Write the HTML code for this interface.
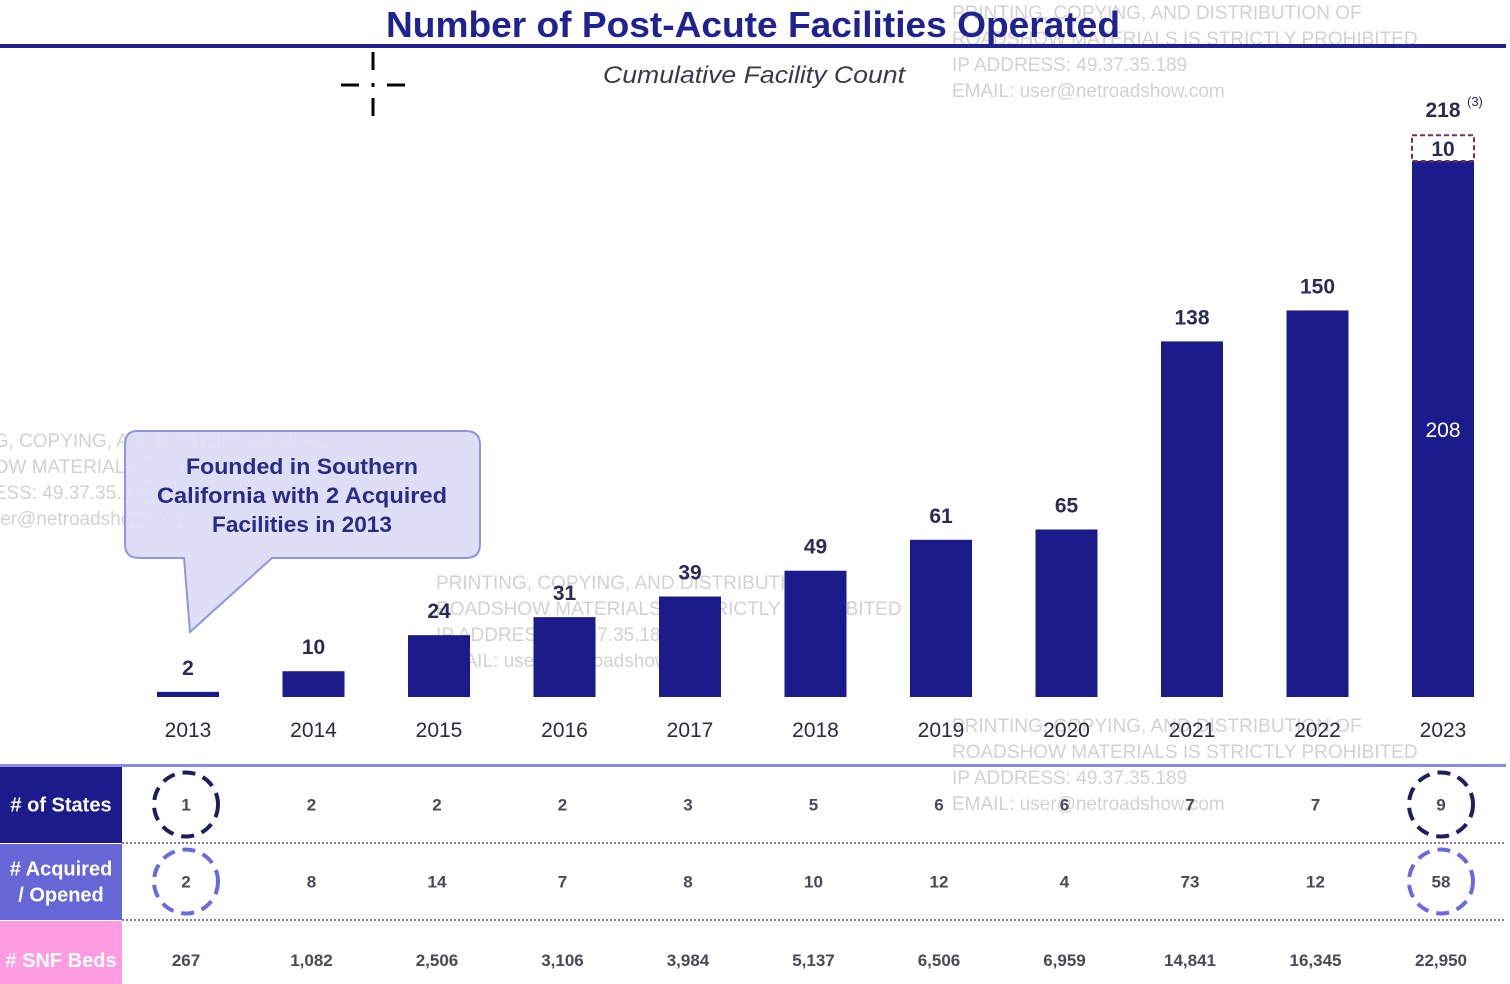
<!DOCTYPE html>
<html><head><meta charset="utf-8"><style>
html,body{margin:0;padding:0;background:#fff;width:1510px;height:984px;overflow:hidden;font-family:"Liberation Sans",sans-serif}
svg{display:block}
</style></head><body>
<svg id="chart" width="1510" height="984" viewBox="0 0 1510 984">
<g fill="#d2d2d2" font-size="19" font-family="Liberation Sans,sans-serif">
<text x="952" y="19">PRINTING, COPYING, AND DISTRIBUTION OF</text>
<text x="952" y="45">ROADSHOW MATERIALS IS STRICTLY PROHIBITED</text>
<text x="952" y="71">IP ADDRESS: 49.37.35.189</text>
<text x="952" y="97">EMAIL: user@netroadshow.com</text>
<text x="-20" y="447">NG, COPYING, AND DISTRIBUTION OF</text>
<text x="-20" y="473">HOW MATERIALS IS STRICTLY PROHIBITED</text>
<text x="-20" y="499">RESS: 49.37.35.189</text>
<text x="-20" y="525">user@netroadshow.com</text>
<text x="436" y="589">PRINTING, COPYING, AND DISTRIBUTION OF</text>
<text x="436" y="615">ROADSHOW MATERIALS IS STRICTLY PROHIBITED</text>
<text x="436" y="641">IP ADDRESS: 49.37.35.189</text>
<text x="436" y="667">EMAIL: user@netroadshow.com</text>
<text x="952" y="732">PRINTING, COPYING, AND DISTRIBUTION OF</text>
<text x="952" y="758">ROADSHOW MATERIALS IS STRICTLY PROHIBITED</text>
<text x="952" y="784">IP ADDRESS: 49.37.35.189</text>
<text x="952" y="810">EMAIL: user@netroadshow.com</text>
</g>
<text x="753" y="37" text-anchor="middle" font-size="36" font-weight="bold" fill="#1f2290" textLength="734" lengthAdjust="spacingAndGlyphs">Number of Post-Acute Facilities Operated</text>
<rect x="0" y="44" width="1506" height="4" fill="#1f2290"/>
<text x="754" y="83" text-anchor="middle" font-size="24" font-style="italic" fill="#3a3a4a" textLength="302" lengthAdjust="spacingAndGlyphs">Cumulative Facility Count</text>
<g stroke="#000" stroke-width="3">
<line x1="373" y1="52" x2="373" y2="70"/><line x1="373" y1="98" x2="373" y2="116"/>
<line x1="341" y1="85" x2="359" y2="85"/><line x1="387" y1="85" x2="405" y2="85"/>
<line x1="373" y1="83" x2="373" y2="87"/>
</g>
<g>
<path d="M137,431 H466 Q480,431 480,445 V544 Q480,558 466,558 H272 L190,632 L184,558 H139 Q125,558 125,544 V445 Q125,431 137,431 Z" fill="#dcdcf6" stroke="#8c8cdc" stroke-width="2" opacity="0.92"/>
<g font-size="22" font-weight="bold" fill="#2a2a88" text-anchor="middle">
<text x="302" y="474" textLength="232" lengthAdjust="spacingAndGlyphs">Founded in Southern</text>
<text x="302" y="503" textLength="290" lengthAdjust="spacingAndGlyphs">California with 2 Acquired</text>
<text x="302" y="532" textLength="180" lengthAdjust="spacingAndGlyphs">Facilities in 2013</text>
</g>
</g>
<g id="bars"></g>
<g id="table"></g>
</svg>
<script>
const years = ['2013','2014','2015','2016','2017','2018','2019','2020','2021','2022','2023'];
const facilities = [2,10,24,31,39,49,61,65,138,150,208];
const pending2023 = 10;
const totalLabel2023 = '218';
const states = [1,2,2,2,3,5,6,6,7,7,9];
const acquired = [2,8,14,7,8,10,12,4,73,12,58];
const snfBeds = ['267','1,082','2,506','3,106','3,984','5,137','6,506','6,959','14,841','16,345','22,950'];

const NS='http://www.w3.org/2000/svg';
function mk(tag,attrs,parent,text){const e=document.createElementNS(NS,tag);for(const k in attrs)e.setAttribute(k,attrs[k]);if(text!==undefined)e.textContent=text;parent.appendChild(e);return e;}
const base=697, scale=536/208;
const xC=i=>188+i*125.5;
const yV=v=>base-v*scale;
const barW=62;
const bars=document.getElementById('bars');
years.forEach((yr,i)=>{
  const v=facilities[i];
  const r=mk('rect',{x:xC(i)-barW/2,y:yV(v),width:barW,height:base-yV(v),fill:'#1b1b8c'},bars);
  
  
  const last=i===years.length-1;
  if(!last){
    const t=mk('text',{x:xC(i),y:yV(v)-17,'text-anchor':'middle','font-size':21,'font-weight':'bold',fill:'#2b2b55'},bars,String(v));
    
    
  } else {
    const t=mk('text',{x:xC(i),y:(yV(v)+base)/2+8,'text-anchor':'middle','font-size':21,fill:'#ffffff'},bars,String(v));
    
    
    const top=yV(v+pending2023);
    const d=mk('rect',{x:xC(i)-barW/2,y:top,width:barW,height:yV(v)-top,fill:'#fff',stroke:'#7a3050','stroke-width':2,'stroke-dasharray':'5 3'},bars);
    
    
    const p=mk('text',{x:xC(i),y:(top+yV(v))/2+8,'text-anchor':'middle','font-size':21,'font-weight':'bold',fill:'#2b2b55'},bars,String(pending2023));
    
    
    const tl=mk('text',{x:xC(i),y:top-18,'text-anchor':'middle','font-size':21,'font-weight':'bold',fill:'#2b2b55'},bars,totalLabel2023);
    
    
    const fn=mk('text',{x:xC(i)+24,y:top-29,'font-size':13,fill:'#2b2b55'},bars,'(3)');
    
    
  }
  const yl=mk('text',{x:xC(i),y:737,'text-anchor':'middle','font-size':21,fill:'#2b2b3a'},bars,yr);
  
  
});
const tb=document.getElementById('table');
const rows=[{label:['# of States'],y:766,h:77,bg:'#1b1b8c',vals:states,circ:'#1e1e5e',dy:0},
  {label:['# Acquired','/ Opened'],y:843,h:77,bg:'#6666d6',vals:acquired,circ:'#6a6ae0',dy:0},
  {label:['# SNF Beds'],y:920,h:64,bg:'#ff9be0',vals:snfBeds,circ:null,dy:8}];
const hl=mk('rect',{x:0,y:764,width:1506,height:3,fill:'#8a8ae0'},tb);


rows.forEach((r,ri)=>{
  const h=mk('rect',{x:0,y:r.y+1,width:122,height:r.h-1,fill:r.bg},tb);
  
  
  r.label.forEach((l,li)=>{
    const t=mk('text',{x:61,y:r.y+r.h/2+7+r.dy+(r.label.length>1?(li-0.5)*26:0),'text-anchor':'middle','font-size':20,'font-weight':'bold',fill:'#fff'},tb,l);
    
    
  });
  if(ri>0){
    const s=mk('line',{x1:122,y1:r.y,x2:1506,y2:r.y,stroke:'#7a7aa8','stroke-width':2,'stroke-dasharray':'2 2'},tb);
    
    
  }
  r.vals.forEach((v,i)=>{
    const cy=r.y+r.h/2;
    if(r.circ && (i===0||i===r.vals.length-1)){
      const c=mk('circle',{cx:xC(i)-2,cy:cy,r:32,fill:'none',stroke:r.circ,'stroke-width':4,'stroke-dasharray':'13 8'},tb);
      
      
    }
    const t=mk('text',{x:xC(i)-2,y:cy+6+r.dy,'text-anchor':'middle','font-size':17,'font-weight':'bold',fill:'#4a4a55'},tb,String(v));
    
    
  });
});
</script>
</body></html>
